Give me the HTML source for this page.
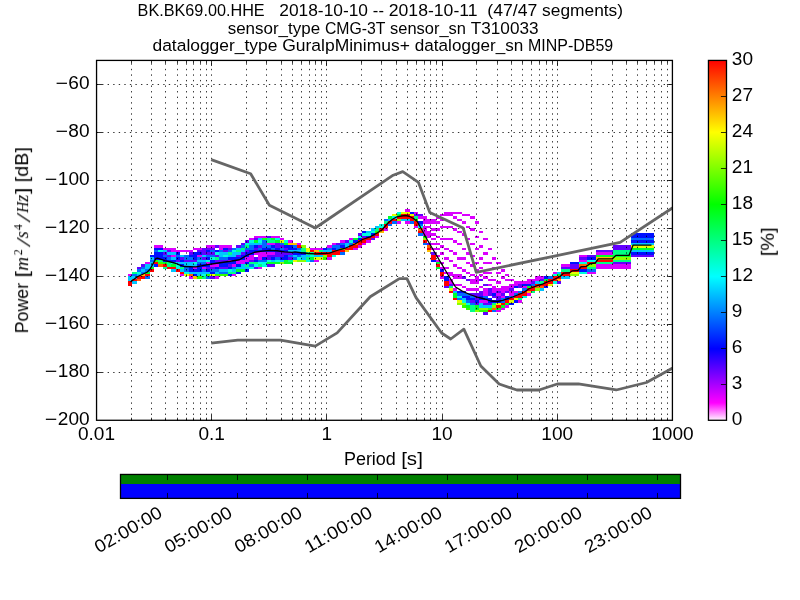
<!DOCTYPE html>
<html><head><meta charset="utf-8"><title>PPSD BK.BK69.00.HHE</title>
<style>
html,body{margin:0;padding:0;background:#fff}
svg{display:block;font-family:"Liberation Sans",sans-serif;fill:#000}
</style></head><body>
<svg width="800" height="600" viewBox="0 0 800 600">
<defs>
<clipPath id="ax"><rect x="96.0" y="60.0" width="576.0" height="360.0"/></clipPath>
<linearGradient id="pq" x1="0" y1="0" x2="0" y2="1"><stop offset="0" stop-color="#ff0000"/><stop offset="0.2" stop-color="#ffff00"/><stop offset="0.4" stop-color="#00ff00"/><stop offset="0.6" stop-color="#00ffff"/><stop offset="0.8" stop-color="#0000ff"/><stop offset="0.95" stop-color="#ff00ff"/><stop offset="1" stop-color="#ffffff"/></linearGradient>
</defs>
<rect width="800" height="600" fill="#fff"/>
<g shape-rendering="crispEdges" stroke="none">
<path fill="#db00ff" d="M127.95 274.09h4.33v2.40h-4.33zM145.29 262.09h4.34v2.40h-4.34zM153.96 245.29h4.34v2.40h-4.34zM158.30 245.29h4.33v2.40h-4.33zM162.63 247.69h4.34v2.40h-4.34zM166.97 247.69h4.34v2.40h-4.34zM171.30 247.69h4.33v4.80h-4.33zM171.30 254.89h4.33v2.40h-4.33zM175.63 250.09h4.34v2.40h-4.34zM179.97 250.09h4.34v2.40h-4.34zM179.97 274.09h4.34v2.40h-4.34zM184.31 250.09h4.33v2.40h-4.33zM188.64 250.09h4.34v2.40h-4.34zM188.64 276.49h4.34v2.40h-4.34zM192.98 247.69h4.33v2.40h-4.33zM192.98 266.89h4.33v2.40h-4.33zM197.31 247.69h4.33v2.40h-4.33zM197.31 254.89h4.33v2.40h-4.33zM201.64 266.89h4.34v2.40h-4.34zM205.98 245.29h4.33v2.40h-4.33zM205.98 262.09h4.33v2.40h-4.33zM210.31 245.29h4.34v2.40h-4.34zM210.31 264.49h4.34v2.40h-4.34zM214.65 264.49h4.34v2.40h-4.34zM214.65 276.49h4.34v2.40h-4.34zM218.99 245.29h4.33v4.80h-4.33zM223.32 245.29h4.34v2.40h-4.34zM227.66 245.29h4.34v2.40h-4.34zM227.66 259.69h4.34v2.40h-4.34zM231.99 264.49h4.33v2.40h-4.33zM231.99 274.09h4.33v2.40h-4.33zM236.32 259.69h4.34v4.80h-4.34zM240.66 259.69h4.34v4.80h-4.34zM245.00 257.29h4.33v4.80h-4.33zM249.33 238.09h4.34v2.40h-4.34zM249.33 254.89h4.34v4.80h-4.34zM253.67 235.69h4.33v2.40h-4.33zM253.67 252.49h4.33v2.40h-4.33zM258.00 235.69h4.33v2.40h-4.33zM258.00 252.49h4.33v7.20h-4.33zM258.00 266.89h4.33v2.40h-4.33zM262.33 235.69h4.34v2.40h-4.34zM262.33 252.49h4.34v4.80h-4.34zM266.67 242.89h4.33v2.40h-4.33zM266.67 252.49h4.33v2.40h-4.33zM271.00 235.69h4.33v2.40h-4.33zM271.00 242.89h4.33v2.40h-4.33zM271.00 252.49h4.33v2.40h-4.33zM275.34 235.69h4.34v2.40h-4.34zM279.68 238.09h4.33v2.40h-4.33zM288.35 240.49h4.33v2.40h-4.33zM297.01 242.89h4.34v2.40h-4.34zM310.02 247.69h4.34v2.40h-4.34zM314.36 247.69h4.33v2.40h-4.33zM314.36 259.69h4.33v2.40h-4.33zM318.69 247.69h4.33v2.40h-4.33zM327.36 245.29h4.33v2.40h-4.33zM327.36 257.29h4.33v2.40h-4.33zM331.69 242.89h4.33v2.40h-4.33zM340.37 240.49h4.33v2.40h-4.33zM349.04 238.09h4.33v2.40h-4.33zM353.37 247.69h4.33v2.40h-4.33zM357.70 245.29h4.34v2.40h-4.34zM362.04 242.89h4.33v2.40h-4.33zM366.38 240.49h4.33v2.40h-4.33zM375.05 235.69h4.33v2.40h-4.33zM383.71 228.49h4.34v2.40h-4.34zM396.72 221.29h4.34v2.40h-4.34zM405.39 209.29h4.33v2.40h-4.33zM405.39 221.29h4.33v2.40h-4.33zM414.06 211.69h4.33v2.40h-4.33zM414.06 226.09h4.33v2.40h-4.33zM418.39 216.49h4.33v2.40h-4.33zM422.73 216.49h4.34v7.20h-4.34zM422.73 226.09h4.34v9.60h-4.34zM427.06 218.89h4.33v4.80h-4.33zM427.06 226.09h4.33v2.40h-4.33zM427.06 230.89h4.33v7.20h-4.33zM431.40 218.89h4.34v4.80h-4.34zM431.40 228.49h4.34v2.40h-4.34zM431.40 233.29h4.34v2.40h-4.34zM431.40 238.09h4.34v2.40h-4.34zM431.40 242.89h4.34v2.40h-4.34zM431.40 247.69h4.34v2.40h-4.34zM435.74 216.49h4.33v2.40h-4.33zM435.74 221.29h4.33v2.40h-4.33zM435.74 228.49h4.33v2.40h-4.33zM435.74 235.69h4.33v2.40h-4.33zM435.74 242.89h4.33v2.40h-4.33zM435.74 247.69h4.33v2.40h-4.33zM435.74 254.89h4.33v2.40h-4.33zM435.74 259.69h4.33v2.40h-4.33zM440.07 214.09h4.33v2.40h-4.33zM440.07 218.89h4.33v2.40h-4.33zM440.07 226.09h4.33v2.40h-4.33zM440.07 238.09h4.33v2.40h-4.33zM440.07 245.29h4.33v2.40h-4.33zM440.07 252.49h4.33v2.40h-4.33zM440.07 262.09h4.33v2.40h-4.33zM440.07 266.89h4.33v2.40h-4.33zM440.07 276.49h4.33v2.40h-4.33zM444.40 211.69h4.34v4.80h-4.34zM444.40 226.09h4.34v2.40h-4.34zM444.40 238.09h4.34v2.40h-4.34zM444.40 247.69h4.34v2.40h-4.34zM444.40 257.29h4.34v2.40h-4.34zM444.40 266.89h4.34v2.40h-4.34zM444.40 271.69h4.34v2.40h-4.34zM448.74 211.69h4.33v4.80h-4.33zM448.74 226.09h4.33v2.40h-4.33zM448.74 238.09h4.33v2.40h-4.33zM448.74 250.09h4.33v2.40h-4.33zM448.74 259.69h4.33v2.40h-4.33zM448.74 271.69h4.33v4.80h-4.33zM448.74 278.89h4.33v4.80h-4.33zM453.07 211.69h4.33v2.40h-4.33zM453.07 216.49h4.33v2.40h-4.33zM453.07 228.49h4.33v2.40h-4.33zM453.07 240.49h4.33v2.40h-4.33zM453.07 252.49h4.33v2.40h-4.33zM453.07 264.49h4.33v2.40h-4.33zM453.07 274.09h4.33v4.80h-4.33zM453.07 283.69h4.33v2.40h-4.33zM453.07 288.49h4.33v2.40h-4.33zM457.41 211.69h4.34v2.40h-4.34zM457.41 218.89h4.34v2.40h-4.34zM457.41 230.89h4.34v2.40h-4.34zM457.41 242.89h4.34v2.40h-4.34zM457.41 257.29h4.34v2.40h-4.34zM457.41 266.89h4.34v2.40h-4.34zM457.41 274.09h4.34v4.80h-4.34zM457.41 283.69h4.34v2.40h-4.34zM461.75 214.09h4.33v2.40h-4.33zM461.75 221.29h4.33v2.40h-4.33zM461.75 233.29h4.33v2.40h-4.33zM461.75 247.69h4.33v2.40h-4.33zM461.75 257.29h4.33v2.40h-4.33zM461.75 269.29h4.33v2.40h-4.33zM461.75 286.09h4.33v2.40h-4.33zM466.08 214.09h4.33v2.40h-4.33zM466.08 226.09h4.33v2.40h-4.33zM466.08 238.09h4.33v2.40h-4.33zM466.08 252.49h4.33v2.40h-4.33zM466.08 262.09h4.33v2.40h-4.33zM466.08 271.69h4.33v2.40h-4.33zM466.08 288.49h4.33v2.40h-4.33zM470.41 216.49h4.34v2.40h-4.34zM470.41 228.49h4.34v2.40h-4.34zM470.41 242.89h4.34v2.40h-4.34zM470.41 254.89h4.34v2.40h-4.34zM470.41 264.49h4.34v2.40h-4.34zM470.41 274.09h4.34v2.40h-4.34zM470.41 278.89h4.34v4.80h-4.34zM470.41 288.49h4.34v2.40h-4.34zM474.75 221.29h4.33v2.40h-4.33zM474.75 235.69h4.33v2.40h-4.33zM474.75 247.69h4.33v2.40h-4.33zM474.75 262.09h4.33v2.40h-4.33zM474.75 269.29h4.33v2.40h-4.33zM474.75 276.49h4.33v7.20h-4.33zM474.75 288.49h4.33v2.40h-4.33zM479.08 230.89h4.33v2.40h-4.33zM479.08 245.29h4.33v2.40h-4.33zM479.08 257.29h4.33v2.40h-4.33zM479.08 266.89h4.33v2.40h-4.33zM479.08 274.09h4.33v2.40h-4.33zM479.08 286.09h4.33v2.40h-4.33zM479.08 300.49h4.33v2.40h-4.33zM483.42 238.09h4.34v2.40h-4.34zM483.42 252.49h4.34v2.40h-4.34zM483.42 262.09h4.34v2.40h-4.34zM483.42 271.69h4.34v2.40h-4.34zM483.42 276.49h4.34v2.40h-4.34zM483.42 288.49h4.34v7.20h-4.34zM483.42 300.49h4.34v2.40h-4.34zM487.75 247.69h4.33v2.40h-4.33zM487.75 262.09h4.33v2.40h-4.33zM487.75 271.69h4.33v2.40h-4.33zM487.75 278.89h4.33v2.40h-4.33zM487.75 283.69h4.33v2.40h-4.33zM492.09 257.29h4.34v2.40h-4.34zM492.09 266.89h4.34v2.40h-4.34zM492.09 278.89h4.34v2.40h-4.34zM492.09 286.09h4.34v7.20h-4.34zM496.43 262.09h4.33v2.40h-4.33zM496.43 271.69h4.33v2.40h-4.33zM496.43 281.29h4.33v2.40h-4.33zM496.43 288.49h4.33v2.40h-4.33zM496.43 293.29h4.33v2.40h-4.33zM496.43 310.09h4.33v2.40h-4.33zM500.76 269.29h4.33v2.40h-4.33zM500.76 276.49h4.33v2.40h-4.33zM500.76 286.09h4.33v7.20h-4.33zM500.76 295.69h4.33v2.40h-4.33zM500.76 307.69h4.33v2.40h-4.33zM505.09 274.09h4.34v2.40h-4.34zM505.09 278.89h4.34v2.40h-4.34zM505.09 286.09h4.34v4.80h-4.34zM505.09 305.29h4.34v2.40h-4.34zM509.43 278.89h4.33v2.40h-4.33zM509.43 283.69h4.33v4.80h-4.33zM509.43 290.89h4.33v4.80h-4.33zM513.76 281.29h4.34v4.80h-4.34zM513.76 290.89h4.34v2.40h-4.34zM518.10 281.29h4.34v2.40h-4.34zM518.10 300.49h4.34v2.40h-4.34zM522.44 281.29h4.33v2.40h-4.33zM522.44 286.09h4.33v2.40h-4.33zM526.77 278.89h4.34v4.80h-4.34zM526.77 293.29h4.34v2.40h-4.34zM531.11 278.89h4.34v2.40h-4.34zM535.44 276.49h4.33v4.80h-4.33zM539.77 276.49h4.34v2.40h-4.34zM552.78 271.69h4.34v2.40h-4.34zM561.45 264.49h4.33v2.40h-4.33zM565.78 264.49h4.34v2.40h-4.34zM578.79 254.89h4.34v2.40h-4.34zM578.79 259.69h4.34v2.40h-4.34zM583.12 254.89h4.34v2.40h-4.34zM583.12 259.69h4.34v2.40h-4.34zM587.46 271.69h4.33v2.40h-4.33zM591.79 271.69h4.34v2.40h-4.34zM596.13 252.49h4.34v2.40h-4.34zM596.13 264.49h4.34v4.80h-4.34zM600.47 252.49h4.34v2.40h-4.34zM600.47 264.49h4.34v4.80h-4.34zM604.80 252.49h4.33v2.40h-4.33zM604.80 264.49h4.33v4.80h-4.33zM609.13 252.49h4.34v2.40h-4.34zM609.13 264.49h4.34v4.80h-4.34zM613.47 264.49h4.34v4.80h-4.34zM617.81 264.49h4.33v4.80h-4.33zM622.14 264.49h4.34v4.80h-4.34zM626.48 264.49h4.34v4.80h-4.34z"/>
<path fill="#00c5ff" d="M127.95 276.49h4.33v4.80h-4.33zM132.28 276.49h4.34v2.40h-4.34zM132.28 281.29h4.34v2.40h-4.34zM136.62 274.09h4.34v2.40h-4.34zM140.96 269.29h4.33v2.40h-4.33zM145.29 264.49h4.34v4.80h-4.34zM149.62 257.29h4.34v2.40h-4.34zM149.62 262.09h4.34v4.80h-4.34zM162.63 250.09h4.34v2.40h-4.34zM166.97 252.49h4.34v2.40h-4.34zM171.30 252.49h4.33v2.40h-4.33zM171.30 257.29h4.33v2.40h-4.33zM171.30 269.29h4.33v2.40h-4.33zM175.63 262.09h4.34v2.40h-4.34zM179.97 254.89h4.34v2.40h-4.34zM179.97 262.09h4.34v2.40h-4.34zM179.97 269.29h4.34v2.40h-4.34zM184.31 262.09h4.33v4.80h-4.33zM188.64 262.09h4.34v4.80h-4.34zM188.64 271.69h4.34v2.40h-4.34zM192.98 264.49h4.33v2.40h-4.33zM192.98 271.69h4.33v2.40h-4.33zM197.31 259.69h4.33v2.40h-4.33zM197.31 271.69h4.33v4.80h-4.33zM201.64 254.89h4.34v2.40h-4.34zM201.64 259.69h4.34v2.40h-4.34zM201.64 271.69h4.34v2.40h-4.34zM205.98 271.69h4.33v2.40h-4.33zM214.65 271.69h4.34v2.40h-4.34zM218.99 252.49h4.33v4.80h-4.33zM218.99 269.29h4.33v2.40h-4.33zM223.32 252.49h4.34v2.40h-4.34zM223.32 269.29h4.34v2.40h-4.34zM227.66 254.89h4.34v2.40h-4.34zM231.99 252.49h4.33v4.80h-4.33zM231.99 269.29h4.33v2.40h-4.33zM236.32 247.69h4.34v2.40h-4.34zM236.32 252.49h4.34v2.40h-4.34zM236.32 266.89h4.34v2.40h-4.34zM240.66 250.09h4.34v2.40h-4.34zM240.66 264.49h4.34v4.80h-4.34zM245.00 266.89h4.33v2.40h-4.33zM249.33 242.89h4.34v2.40h-4.34zM253.67 242.89h4.33v2.40h-4.33zM258.00 238.09h4.33v2.40h-4.33zM258.00 242.89h4.33v2.40h-4.33zM271.00 259.69h4.33v2.40h-4.33zM279.68 259.69h4.33v2.40h-4.33zM288.35 250.09h4.33v2.40h-4.33zM292.68 250.09h4.33v2.40h-4.33zM292.68 254.89h4.33v2.40h-4.33zM297.01 250.09h4.34v2.40h-4.34zM301.35 254.89h4.33v4.80h-4.33zM305.69 254.89h4.33v2.40h-4.33zM314.36 254.89h4.33v2.40h-4.33zM318.69 254.89h4.33v2.40h-4.33zM323.02 250.09h4.34v2.40h-4.34zM327.36 250.09h4.33v2.40h-4.33zM344.70 242.89h4.34v4.80h-4.34zM366.38 230.89h4.33v2.40h-4.33zM370.71 228.49h4.34v2.40h-4.34zM375.05 226.09h4.33v2.40h-4.33zM388.05 218.89h4.33v2.40h-4.33zM401.06 218.89h4.33v2.40h-4.33zM405.39 218.89h4.33v2.40h-4.33zM453.07 290.89h4.33v2.40h-4.33zM461.75 298.09h4.33v2.40h-4.33zM479.08 302.89h4.33v4.80h-4.33zM483.42 305.29h4.34v2.40h-4.34zM487.75 305.29h4.33v2.40h-4.33zM535.44 281.29h4.33v2.40h-4.33zM539.77 288.49h4.34v2.40h-4.34zM557.12 271.69h4.34v2.40h-4.34zM561.45 276.49h4.33v2.40h-4.33zM565.78 276.49h4.34v2.40h-4.34zM630.81 242.89h4.33v2.40h-4.33zM630.81 250.09h4.33v2.40h-4.33zM635.14 242.89h4.34v2.40h-4.34zM635.14 250.09h4.34v2.40h-4.34zM639.48 242.89h4.34v2.40h-4.34zM639.48 250.09h4.34v2.40h-4.34zM643.82 242.89h4.34v2.40h-4.34zM643.82 250.09h4.34v2.40h-4.34zM648.15 242.89h5.95v2.40h-5.95zM648.15 250.09h5.95v2.40h-5.95z"/>
<path fill="#ff0000" d="M127.95 281.29h4.33v4.80h-4.33zM132.28 278.89h4.34v2.40h-4.34zM136.62 276.49h4.34v2.40h-4.34zM140.96 276.49h4.33v2.40h-4.33zM145.29 274.09h4.34v2.40h-4.34zM149.62 269.29h4.34v2.40h-4.34zM153.96 262.09h4.34v2.40h-4.34zM162.63 264.49h4.34v2.40h-4.34zM166.97 266.89h4.34v2.40h-4.34zM171.30 266.89h4.33v2.40h-4.33zM175.63 269.29h4.34v2.40h-4.34zM179.97 271.69h4.34v2.40h-4.34zM297.01 245.29h4.34v2.40h-4.34zM310.02 250.09h4.34v2.40h-4.34zM314.36 252.49h4.33v2.40h-4.33zM318.69 252.49h4.33v2.40h-4.33zM323.02 252.49h4.34v2.40h-4.34zM327.36 252.49h4.33v4.80h-4.33zM331.69 250.09h4.33v4.80h-4.33zM336.03 250.09h4.34v4.80h-4.34zM340.37 250.09h4.33v2.40h-4.33zM344.70 247.69h4.34v2.40h-4.34zM349.04 245.29h4.33v4.80h-4.33zM353.37 245.29h4.33v2.40h-4.33zM357.70 240.49h4.34v4.80h-4.34zM362.04 238.09h4.33v4.80h-4.33zM366.38 238.09h4.33v2.40h-4.33zM370.71 235.69h4.34v2.40h-4.34zM375.05 233.29h4.33v2.40h-4.33zM379.38 228.49h4.33v2.40h-4.33zM383.71 223.69h4.34v4.80h-4.34zM388.05 221.29h4.33v2.40h-4.33zM392.38 218.89h4.33v2.40h-4.33zM396.72 216.49h4.34v2.40h-4.34zM401.06 214.09h4.33v4.80h-4.33zM405.39 214.09h4.33v4.80h-4.33zM409.72 216.49h4.34v4.80h-4.34zM414.06 221.29h4.33v4.80h-4.33zM418.39 230.89h4.33v2.40h-4.33zM422.73 240.49h4.34v2.40h-4.34zM427.06 247.69h4.33v2.40h-4.33zM431.40 254.89h4.34v4.80h-4.34zM435.74 264.49h4.33v2.40h-4.33zM440.07 271.69h4.33v4.80h-4.33zM444.40 281.29h4.34v4.80h-4.34zM448.74 290.89h4.33v2.40h-4.33zM453.07 298.09h4.33v2.40h-4.33zM487.75 310.09h4.33v2.40h-4.33zM496.43 305.29h4.33v2.40h-4.33zM500.76 302.89h4.33v2.40h-4.33zM505.09 300.49h4.34v2.40h-4.34zM509.43 298.09h4.33v2.40h-4.33zM513.76 295.69h4.34v2.40h-4.34zM518.10 293.29h4.34v4.80h-4.34zM522.44 290.89h4.33v4.80h-4.33zM526.77 288.49h4.34v2.40h-4.34zM531.11 286.09h4.34v4.80h-4.34zM535.44 283.69h4.33v2.40h-4.33zM539.77 283.69h4.34v2.40h-4.34zM544.11 281.29h4.34v4.80h-4.34zM548.45 278.89h4.33v4.80h-4.33zM552.78 276.49h4.34v4.80h-4.34zM557.12 276.49h4.34v2.40h-4.34zM561.45 271.69h4.33v4.80h-4.33zM565.78 271.69h4.34v4.80h-4.34zM570.12 269.29h4.34v2.40h-4.34zM574.46 269.29h4.33v2.40h-4.33zM578.79 266.89h4.34v2.40h-4.34zM583.12 266.89h4.34v2.40h-4.34zM587.46 262.09h4.33v2.40h-4.33zM591.79 262.09h4.34v2.40h-4.34zM596.13 259.69h4.34v2.40h-4.34zM600.47 259.69h4.34v2.40h-4.34zM604.80 259.69h4.33v2.40h-4.33zM609.13 259.69h4.34v2.40h-4.34z"/>
<path fill="#00ff84" d="M132.28 271.69h4.34v2.40h-4.34zM158.30 259.69h4.33v2.40h-4.33zM162.63 266.89h4.34v2.40h-4.34zM166.97 262.09h4.34v4.80h-4.34zM179.97 266.89h4.34v2.40h-4.34zM201.64 276.49h4.34v2.40h-4.34zM214.65 257.29h4.34v2.40h-4.34zM227.66 252.49h4.34v2.40h-4.34zM227.66 271.69h4.34v2.40h-4.34zM231.99 271.69h4.33v2.40h-4.33zM236.32 250.09h4.34v2.40h-4.34zM240.66 247.69h4.34v2.40h-4.34zM245.00 245.29h4.33v2.40h-4.33zM245.00 264.49h4.33v2.40h-4.33zM249.33 262.09h4.34v2.40h-4.34zM253.67 262.09h4.33v2.40h-4.33zM258.00 264.49h4.33v2.40h-4.33zM266.67 238.09h4.33v4.80h-4.33zM271.00 240.49h4.33v2.40h-4.33zM288.35 259.69h4.33v2.40h-4.33zM301.35 247.69h4.33v4.80h-4.33zM305.69 252.49h4.33v2.40h-4.33zM305.69 257.29h4.33v2.40h-4.33zM310.02 252.49h4.34v2.40h-4.34zM318.69 250.09h4.33v2.40h-4.33zM375.05 228.49h4.33v2.40h-4.33zM383.71 221.29h4.34v2.40h-4.34zM414.06 216.49h4.33v2.40h-4.33zM448.74 286.09h4.33v2.40h-4.33zM470.41 305.29h4.34v7.20h-4.34zM492.09 302.89h4.34v2.40h-4.34zM518.10 298.09h4.34v2.40h-4.34zM531.11 290.89h4.34v2.40h-4.34zM539.77 281.29h4.34v2.40h-4.34zM561.45 269.29h4.33v2.40h-4.33zM565.78 269.29h4.34v2.40h-4.34zM587.46 266.89h4.33v2.40h-4.33zM591.79 266.89h4.34v2.40h-4.34zM596.13 262.09h4.34v2.40h-4.34zM600.47 262.09h4.34v2.40h-4.34zM604.80 262.09h4.33v2.40h-4.33zM609.13 262.09h4.34v2.40h-4.34zM613.47 250.09h4.34v4.80h-4.34zM613.47 259.69h4.34v2.40h-4.34zM617.81 250.09h4.33v4.80h-4.33zM617.81 259.69h4.33v2.40h-4.33zM622.14 250.09h4.34v4.80h-4.34zM622.14 259.69h4.34v2.40h-4.34zM626.48 250.09h4.34v4.80h-4.34zM626.48 259.69h4.34v2.40h-4.34z"/>
<path fill="#006bff" d="M132.28 274.09h4.34v2.40h-4.34zM136.62 269.29h4.34v2.40h-4.34zM140.96 266.89h4.33v2.40h-4.33zM140.96 271.69h4.33v2.40h-4.33zM145.29 269.29h4.34v2.40h-4.34zM145.29 276.49h4.34v2.40h-4.34zM149.62 259.69h4.34v2.40h-4.34zM153.96 250.09h4.34v2.40h-4.34zM162.63 254.89h4.34v2.40h-4.34zM166.97 257.29h4.34v2.40h-4.34zM175.63 254.89h4.34v2.40h-4.34zM184.31 254.89h4.33v4.80h-4.33zM184.31 266.89h4.33v4.80h-4.33zM188.64 257.29h4.34v2.40h-4.34zM197.31 257.29h4.33v2.40h-4.33zM197.31 262.09h4.33v2.40h-4.33zM201.64 262.09h4.34v2.40h-4.34zM201.64 269.29h4.34v2.40h-4.34zM205.98 254.89h4.33v2.40h-4.33zM205.98 276.49h4.33v2.40h-4.33zM210.31 250.09h4.34v2.40h-4.34zM210.31 254.89h4.34v2.40h-4.34zM210.31 269.29h4.34v2.40h-4.34zM214.65 269.29h4.34v2.40h-4.34zM218.99 250.09h4.33v2.40h-4.33zM218.99 257.29h4.33v2.40h-4.33zM218.99 271.69h4.33v2.40h-4.33zM223.32 257.29h4.34v2.40h-4.34zM223.32 271.69h4.34v2.40h-4.34zM227.66 250.09h4.34v2.40h-4.34zM231.99 247.69h4.33v2.40h-4.33zM231.99 266.89h4.33v2.40h-4.33zM240.66 245.29h4.34v2.40h-4.34zM245.00 247.69h4.33v2.40h-4.33zM249.33 245.29h4.34v4.80h-4.34zM249.33 264.49h4.34v2.40h-4.34zM258.00 247.69h4.33v2.40h-4.33zM258.00 259.69h4.33v2.40h-4.33zM262.33 240.49h4.34v7.20h-4.34zM262.33 259.69h4.34v2.40h-4.34zM266.67 245.29h4.33v2.40h-4.33zM271.00 247.69h4.33v2.40h-4.33zM275.34 257.29h4.34v2.40h-4.34zM279.68 242.89h4.33v2.40h-4.33zM279.68 247.69h4.33v2.40h-4.33zM288.35 254.89h4.33v2.40h-4.33zM292.68 245.29h4.33v2.40h-4.33zM292.68 257.29h4.33v2.40h-4.33zM297.01 247.69h4.34v2.40h-4.34zM297.01 254.89h4.34v2.40h-4.34zM310.02 259.69h4.34v2.40h-4.34zM327.36 247.69h4.33v2.40h-4.33zM331.69 245.29h4.33v2.40h-4.33zM336.03 245.29h4.34v4.80h-4.34zM340.37 242.89h4.33v2.40h-4.33zM340.37 252.49h4.33v2.40h-4.33zM349.04 242.89h4.33v2.40h-4.33zM383.71 218.89h4.34v2.40h-4.34zM388.05 223.69h4.33v2.40h-4.33zM392.38 221.29h4.33v2.40h-4.33zM409.72 221.29h4.34v2.40h-4.34zM418.39 223.69h4.33v2.40h-4.33zM418.39 233.29h4.33v2.40h-4.33zM422.73 242.89h4.34v2.40h-4.34zM457.41 293.29h4.34v2.40h-4.34zM457.41 298.09h4.34v2.40h-4.34zM461.75 293.29h4.33v2.40h-4.33zM466.08 293.29h4.33v2.40h-4.33zM466.08 300.49h4.33v2.40h-4.33zM470.41 295.69h4.34v2.40h-4.34zM470.41 302.89h4.34v2.40h-4.34zM483.42 295.69h4.34v2.40h-4.34zM492.09 310.09h4.34v2.40h-4.34zM500.76 298.09h4.33v4.80h-4.33zM509.43 295.69h4.33v2.40h-4.33zM513.76 293.29h4.34v2.40h-4.34zM518.10 290.89h4.34v2.40h-4.34zM522.44 288.49h4.33v2.40h-4.33zM531.11 283.69h4.34v2.40h-4.34zM548.45 276.49h4.33v2.40h-4.33zM587.46 269.29h4.33v2.40h-4.33zM591.79 269.29h4.34v2.40h-4.34zM630.81 238.09h4.33v2.40h-4.33zM635.14 238.09h4.34v2.40h-4.34zM639.48 238.09h4.34v2.40h-4.34zM643.82 238.09h4.34v2.40h-4.34zM648.15 238.09h5.95v2.40h-5.95z"/>
<path fill="#6300ff" d="M136.62 266.89h4.34v2.40h-4.34zM140.96 264.49h4.33v2.40h-4.33zM162.63 252.49h4.34v2.40h-4.34zM166.97 250.09h4.34v2.40h-4.34zM166.97 254.89h4.34v2.40h-4.34zM175.63 259.69h4.34v2.40h-4.34zM179.97 257.29h4.34v2.40h-4.34zM184.31 259.69h4.33v2.40h-4.33zM188.64 252.49h4.34v2.40h-4.34zM188.64 259.69h4.34v2.40h-4.34zM192.98 259.69h4.33v2.40h-4.33zM197.31 250.09h4.33v2.40h-4.33zM201.64 247.69h4.34v7.20h-4.34zM201.64 257.29h4.34v2.40h-4.34zM205.98 247.69h4.33v2.40h-4.33zM205.98 252.49h4.33v2.40h-4.33zM205.98 266.89h4.33v2.40h-4.33zM210.31 247.69h4.34v2.40h-4.34zM210.31 252.49h4.34v2.40h-4.34zM210.31 266.89h4.34v2.40h-4.34zM210.31 276.49h4.34v2.40h-4.34zM214.65 245.29h4.34v2.40h-4.34zM214.65 254.89h4.34v2.40h-4.34zM214.65 259.69h4.34v2.40h-4.34zM218.99 259.69h4.33v2.40h-4.33zM218.99 266.89h4.33v2.40h-4.33zM223.32 250.09h4.34v2.40h-4.34zM223.32 259.69h4.34v2.40h-4.34zM223.32 266.89h4.34v2.40h-4.34zM227.66 247.69h4.34v2.40h-4.34zM227.66 264.49h4.34v2.40h-4.34zM236.32 245.29h4.34v2.40h-4.34zM236.32 254.89h4.34v2.40h-4.34zM240.66 242.89h4.34v2.40h-4.34zM240.66 252.49h4.34v2.40h-4.34zM245.00 240.49h4.33v2.40h-4.33zM245.00 250.09h4.33v2.40h-4.33zM249.33 259.69h4.34v2.40h-4.34zM253.67 238.09h4.33v2.40h-4.33zM253.67 247.69h4.33v2.40h-4.33zM253.67 257.29h4.33v2.40h-4.33zM253.67 266.89h4.33v2.40h-4.33zM258.00 245.29h4.33v2.40h-4.33zM266.67 235.69h4.33v2.40h-4.33zM266.67 254.89h4.33v4.80h-4.33zM266.67 264.49h4.33v2.40h-4.33zM271.00 254.89h4.33v2.40h-4.33zM271.00 264.49h4.33v2.40h-4.33zM275.34 242.89h4.34v4.80h-4.34zM275.34 252.49h4.34v4.80h-4.34zM279.68 245.29h4.33v2.40h-4.33zM279.68 252.49h4.33v4.80h-4.33zM284.01 247.69h4.34v2.40h-4.34zM284.01 252.49h4.34v2.40h-4.34zM288.35 252.49h4.33v2.40h-4.33zM288.35 257.29h4.33v2.40h-4.33zM336.03 242.89h4.34v2.40h-4.34zM344.70 240.49h4.34v2.40h-4.34zM357.70 233.29h4.34v2.40h-4.34zM362.04 235.69h4.33v2.40h-4.33zM370.71 238.09h4.34v2.40h-4.34zM414.06 214.09h4.33v2.40h-4.33zM418.39 214.09h4.33v2.40h-4.33zM427.06 242.89h4.33v2.40h-4.33zM431.40 252.49h4.34v2.40h-4.34zM444.40 286.09h4.34v2.40h-4.34zM448.74 283.69h4.33v2.40h-4.33zM461.75 276.49h4.33v2.40h-4.33zM466.08 278.89h4.33v2.40h-4.33zM470.41 293.29h4.34v2.40h-4.34zM470.41 300.49h4.34v2.40h-4.34zM474.75 293.29h4.33v7.20h-4.33zM474.75 302.89h4.33v2.40h-4.33zM479.08 278.89h4.33v2.40h-4.33zM479.08 290.89h4.33v4.80h-4.33zM483.42 283.69h4.34v2.40h-4.34zM483.42 302.89h4.34v2.40h-4.34zM483.42 312.49h4.34v2.40h-4.34zM487.75 288.49h4.33v7.20h-4.33zM487.75 302.89h4.33v2.40h-4.33zM492.09 295.69h4.34v2.40h-4.34zM496.43 290.89h4.33v2.40h-4.33zM496.43 295.69h4.33v4.80h-4.33zM500.76 293.29h4.33v2.40h-4.33zM505.09 290.89h4.34v2.40h-4.34zM509.43 288.49h4.33v2.40h-4.33zM518.10 283.69h4.34v4.80h-4.34zM531.11 281.29h4.34v2.40h-4.34zM539.77 278.89h4.34v2.40h-4.34zM557.12 281.29h4.34v2.40h-4.34zM561.45 266.89h4.33v2.40h-4.33zM565.78 266.89h4.34v2.40h-4.34zM570.12 264.49h4.34v4.80h-4.34zM574.46 264.49h4.33v4.80h-4.33zM578.79 257.29h4.34v2.40h-4.34zM583.12 257.29h4.34v2.40h-4.34zM587.46 254.89h4.33v2.40h-4.33zM591.79 254.89h4.34v2.40h-4.34zM596.13 250.09h4.34v2.40h-4.34zM600.47 250.09h4.34v2.40h-4.34zM604.80 250.09h4.33v2.40h-4.33zM609.13 250.09h4.34v2.40h-4.34zM613.47 245.29h4.34v4.80h-4.34zM613.47 262.09h4.34v2.40h-4.34zM617.81 245.29h4.33v4.80h-4.33zM617.81 262.09h4.33v2.40h-4.33zM622.14 245.29h4.34v4.80h-4.34zM622.14 262.09h4.34v2.40h-4.34zM626.48 245.29h4.34v4.80h-4.34zM626.48 262.09h4.34v2.40h-4.34zM630.81 254.89h4.33v2.40h-4.33zM635.14 254.89h4.34v2.40h-4.34zM639.48 254.89h4.34v2.40h-4.34zM643.82 254.89h4.34v2.40h-4.34zM648.15 254.89h5.95v2.40h-5.95z"/>
<path fill="#00ffde" d="M136.62 271.69h4.34v2.40h-4.34zM158.30 250.09h4.33v2.40h-4.33zM171.30 262.09h4.33v2.40h-4.33zM175.63 264.49h4.34v4.80h-4.34zM184.31 271.69h4.33v2.40h-4.33zM192.98 262.09h4.33v2.40h-4.33zM201.64 274.09h4.34v2.40h-4.34zM205.98 259.69h4.33v2.40h-4.33zM210.31 257.29h4.34v2.40h-4.34zM214.65 252.49h4.34v2.40h-4.34zM223.32 254.89h4.34v2.40h-4.34zM227.66 269.29h4.34v2.40h-4.34zM231.99 250.09h4.33v2.40h-4.33zM245.00 242.89h4.33v2.40h-4.33zM249.33 240.49h4.34v2.40h-4.34zM249.33 266.89h4.34v2.40h-4.34zM253.67 264.49h4.33v2.40h-4.33zM258.00 240.49h4.33v2.40h-4.33zM258.00 262.09h4.33v2.40h-4.33zM262.33 262.09h4.34v4.80h-4.34zM266.67 259.69h4.33v2.40h-4.33zM275.34 238.09h4.34v2.40h-4.34zM275.34 259.69h4.34v2.40h-4.34zM284.01 240.49h4.34v2.40h-4.34zM297.01 257.29h4.34v2.40h-4.34zM305.69 259.69h4.33v2.40h-4.33zM310.02 254.89h4.34v2.40h-4.34zM331.69 254.89h4.33v2.40h-4.33zM349.04 240.49h4.33v2.40h-4.33zM357.70 235.69h4.34v2.40h-4.34zM362.04 233.29h4.33v2.40h-4.33zM366.38 233.29h4.33v2.40h-4.33zM370.71 230.89h4.34v2.40h-4.34zM379.38 223.69h4.33v4.80h-4.33zM392.38 216.49h4.33v2.40h-4.33zM396.72 211.69h4.34v2.40h-4.34zM418.39 226.09h4.33v2.40h-4.33zM457.41 295.69h4.34v2.40h-4.34zM461.75 300.49h4.33v2.40h-4.33zM466.08 302.89h4.33v2.40h-4.33zM522.44 295.69h4.33v2.40h-4.33zM552.78 274.09h4.34v2.40h-4.34zM552.78 281.29h4.34v2.40h-4.34zM578.79 262.09h4.34v2.40h-4.34zM578.79 271.69h4.34v2.40h-4.34zM583.12 262.09h4.34v2.40h-4.34zM583.12 271.69h4.34v2.40h-4.34zM587.46 259.69h4.33v2.40h-4.33zM591.79 259.69h4.34v2.40h-4.34z"/>
<path fill="#ff6300" d="M136.62 278.89h4.34v2.40h-4.34zM158.30 264.49h4.33v2.40h-4.33zM188.64 274.09h4.34v2.40h-4.34zM353.37 242.89h4.33v2.40h-4.33zM418.39 228.49h4.33v2.40h-4.33zM427.06 245.29h4.33v2.40h-4.33zM492.09 307.69h4.34v2.40h-4.34zM535.44 286.09h4.33v2.40h-4.33zM539.77 286.09h4.34v2.40h-4.34zM578.79 264.49h4.34v2.40h-4.34zM583.12 264.49h4.34v2.40h-4.34z"/>
<path fill="#ffbe00" d="M140.96 274.09h4.33v2.40h-4.33zM192.98 276.49h4.33v2.40h-4.33zM288.35 242.89h4.33v2.40h-4.33zM292.68 242.89h4.33v2.40h-4.33zM314.36 250.09h4.33v2.40h-4.33zM344.70 250.09h4.34v2.40h-4.34zM379.38 230.89h4.33v2.40h-4.33zM427.06 250.09h4.33v2.40h-4.33zM526.77 290.89h4.34v2.40h-4.34zM557.12 278.89h4.34v2.40h-4.34zM596.13 257.29h4.34v2.40h-4.34zM600.47 257.29h4.34v2.40h-4.34zM604.80 257.29h4.33v2.40h-4.33zM609.13 257.29h4.34v2.40h-4.34z"/>
<path fill="#00ff2a" d="M145.29 271.69h4.34v2.40h-4.34zM149.62 266.89h4.34v2.40h-4.34zM162.63 262.09h4.34v2.40h-4.34zM171.30 264.49h4.33v2.40h-4.33zM236.32 269.29h4.34v2.40h-4.34zM240.66 269.29h4.34v2.40h-4.34zM253.67 240.49h4.33v2.40h-4.33zM262.33 238.09h4.34v2.40h-4.34zM266.67 262.09h4.33v2.40h-4.33zM271.00 238.09h4.33v2.40h-4.33zM271.00 262.09h4.33v2.40h-4.33zM275.34 240.49h4.34v2.40h-4.34zM275.34 262.09h4.34v2.40h-4.34zM284.01 242.89h4.34v2.40h-4.34zM284.01 259.69h4.34v4.80h-4.34zM288.35 262.09h4.33v2.40h-4.33zM310.02 257.29h4.34v2.40h-4.34zM353.37 238.09h4.33v2.40h-4.33zM388.05 216.49h4.33v2.40h-4.33zM396.72 214.09h4.34v2.40h-4.34zM422.73 235.69h4.34v2.40h-4.34zM435.74 262.09h4.33v2.40h-4.33zM435.74 266.89h4.33v2.40h-4.33zM453.07 293.29h4.33v4.80h-4.33zM466.08 305.29h4.33v2.40h-4.33zM474.75 305.29h4.33v4.80h-4.33zM496.43 307.69h4.33v2.40h-4.33zM500.76 305.29h4.33v2.40h-4.33zM505.09 302.89h4.34v2.40h-4.34zM526.77 286.09h4.34v2.40h-4.34zM544.11 278.89h4.34v2.40h-4.34zM557.12 274.09h4.34v2.40h-4.34zM596.13 254.89h4.34v2.40h-4.34zM600.47 254.89h4.34v2.40h-4.34zM604.80 254.89h4.33v2.40h-4.33zM609.13 254.89h4.34v2.40h-4.34zM613.47 254.89h4.34v2.40h-4.34zM617.81 254.89h4.33v2.40h-4.33zM622.14 254.89h4.34v2.40h-4.34zM626.48 254.89h4.34v2.40h-4.34zM630.81 247.69h4.33v2.40h-4.33zM635.14 247.69h4.34v2.40h-4.34zM639.48 247.69h4.34v2.40h-4.34zM643.82 247.69h4.34v2.40h-4.34zM648.15 247.69h5.95v2.40h-5.95z"/>
<path fill="#0010ff" d="M149.62 254.89h4.34v2.40h-4.34zM153.96 247.69h4.34v2.40h-4.34zM153.96 252.49h4.34v7.20h-4.34zM153.96 264.49h4.34v2.40h-4.34zM158.30 247.69h4.33v2.40h-4.33zM158.30 252.49h4.33v7.20h-4.33zM162.63 257.29h4.34v4.80h-4.34zM166.97 259.69h4.34v2.40h-4.34zM171.30 259.69h4.33v2.40h-4.33zM175.63 252.49h4.34v2.40h-4.34zM175.63 257.29h4.34v2.40h-4.34zM179.97 259.69h4.34v2.40h-4.34zM179.97 264.49h4.34v2.40h-4.34zM188.64 254.89h4.34v2.40h-4.34zM188.64 266.89h4.34v4.80h-4.34zM192.98 252.49h4.33v7.20h-4.33zM192.98 269.29h4.33v2.40h-4.33zM192.98 274.09h4.33v2.40h-4.33zM197.31 252.49h4.33v2.40h-4.33zM197.31 264.49h4.33v7.20h-4.33zM201.64 264.49h4.34v2.40h-4.34zM205.98 250.09h4.33v2.40h-4.33zM205.98 257.29h4.33v2.40h-4.33zM205.98 264.49h4.33v2.40h-4.33zM205.98 269.29h4.33v2.40h-4.33zM210.31 259.69h4.34v4.80h-4.34zM210.31 271.69h4.34v2.40h-4.34zM214.65 250.09h4.34v2.40h-4.34zM214.65 262.09h4.34v2.40h-4.34zM214.65 266.89h4.34v2.40h-4.34zM218.99 262.09h4.33v4.80h-4.33zM223.32 247.69h4.34v2.40h-4.34zM223.32 262.09h4.34v4.80h-4.34zM227.66 257.29h4.34v2.40h-4.34zM227.66 262.09h4.34v2.40h-4.34zM227.66 266.89h4.34v2.40h-4.34zM227.66 274.09h4.34v2.40h-4.34zM231.99 257.29h4.33v7.20h-4.33zM236.32 257.29h4.34v2.40h-4.34zM236.32 264.49h4.34v2.40h-4.34zM236.32 271.69h4.34v2.40h-4.34zM240.66 254.89h4.34v4.80h-4.34zM245.00 252.49h4.33v4.80h-4.33zM245.00 262.09h4.33v2.40h-4.33zM245.00 269.29h4.33v2.40h-4.33zM249.33 250.09h4.34v4.80h-4.34zM253.67 245.29h4.33v2.40h-4.33zM253.67 250.09h4.33v2.40h-4.33zM253.67 259.69h4.33v2.40h-4.33zM258.00 250.09h4.33v2.40h-4.33zM262.33 247.69h4.34v4.80h-4.34zM262.33 257.29h4.34v2.40h-4.34zM266.67 247.69h4.33v4.80h-4.33zM271.00 245.29h4.33v2.40h-4.33zM271.00 250.09h4.33v2.40h-4.33zM271.00 257.29h4.33v2.40h-4.33zM275.34 247.69h4.34v4.80h-4.34zM279.68 250.09h4.33v2.40h-4.33zM279.68 257.29h4.33v2.40h-4.33zM284.01 245.29h4.34v2.40h-4.34zM284.01 250.09h4.34v2.40h-4.34zM284.01 254.89h4.34v4.80h-4.34zM288.35 245.29h4.33v4.80h-4.33zM292.68 247.69h4.33v2.40h-4.33zM292.68 252.49h4.33v2.40h-4.33zM297.01 252.49h4.34v2.40h-4.34zM301.35 252.49h4.33v2.40h-4.33zM323.02 247.69h4.34v2.40h-4.34zM331.69 247.69h4.33v2.40h-4.33zM340.37 245.29h4.33v2.40h-4.33zM353.37 240.49h4.33v2.40h-4.33zM357.70 238.09h4.34v2.40h-4.34zM362.04 230.89h4.33v2.40h-4.33zM366.38 235.69h4.33v2.40h-4.33zM370.71 233.29h4.34v2.40h-4.34zM409.72 211.69h4.34v2.40h-4.34zM418.39 221.29h4.33v2.40h-4.33zM431.40 259.69h4.34v2.40h-4.34zM440.07 269.29h4.33v2.40h-4.33zM444.40 276.49h4.34v4.80h-4.34zM457.41 290.89h4.34v2.40h-4.34zM461.75 290.89h4.33v2.40h-4.33zM461.75 295.69h4.33v2.40h-4.33zM466.08 295.69h4.33v4.80h-4.33zM470.41 298.09h4.34v2.40h-4.34zM474.75 300.49h4.33v2.40h-4.33zM479.08 295.69h4.33v4.80h-4.33zM483.42 298.09h4.34v2.40h-4.34zM487.75 298.09h4.33v4.80h-4.33zM492.09 293.29h4.34v2.40h-4.34zM492.09 300.49h4.34v2.40h-4.34zM496.43 300.49h4.33v2.40h-4.33zM505.09 295.69h4.34v4.80h-4.34zM509.43 302.89h4.33v2.40h-4.33zM513.76 286.09h4.34v2.40h-4.34zM513.76 300.49h4.34v2.40h-4.34zM522.44 283.69h4.33v2.40h-4.33zM526.77 283.69h4.34v2.40h-4.34zM544.11 276.49h4.34v2.40h-4.34zM544.11 286.09h4.34v2.40h-4.34zM570.12 262.09h4.34v2.40h-4.34zM574.46 262.09h4.33v2.40h-4.33zM578.79 269.29h4.34v2.40h-4.34zM583.12 269.29h4.34v2.40h-4.34zM587.46 257.29h4.33v2.40h-4.33zM591.79 257.29h4.34v2.40h-4.34zM630.81 233.29h4.33v4.80h-4.33zM630.81 240.49h4.33v2.40h-4.33zM630.81 252.49h4.33v2.40h-4.33zM635.14 233.29h4.34v4.80h-4.34zM635.14 240.49h4.34v2.40h-4.34zM635.14 252.49h4.34v2.40h-4.34zM639.48 233.29h4.34v4.80h-4.34zM639.48 240.49h4.34v2.40h-4.34zM639.48 252.49h4.34v2.40h-4.34zM643.82 233.29h4.34v4.80h-4.34zM643.82 240.49h4.34v2.40h-4.34zM643.82 252.49h4.34v2.40h-4.34zM648.15 233.29h5.95v4.80h-5.95zM648.15 240.49h5.95v2.40h-5.95zM648.15 252.49h5.95v2.40h-5.95z"/>
<path fill="#31ff00" d="M153.96 259.69h4.34v2.40h-4.34zM158.30 262.09h4.33v2.40h-4.33zM197.31 276.49h4.33v2.40h-4.33zM205.98 274.09h4.33v2.40h-4.33zM214.65 274.09h4.34v2.40h-4.34zM218.99 274.09h4.33v2.40h-4.33zM223.32 274.09h4.34v2.40h-4.34zM323.02 257.29h4.34v2.40h-4.34zM375.05 230.89h4.33v2.40h-4.33zM414.06 218.89h4.33v2.40h-4.33zM461.75 305.29h4.33v2.40h-4.33zM466.08 307.69h4.33v2.40h-4.33zM479.08 310.09h4.33v2.40h-4.33zM483.42 310.09h4.34v2.40h-4.34zM487.75 307.69h4.33v2.40h-4.33z"/>
<path fill="#e6ff00" d="M184.31 274.09h4.33v2.40h-4.33zM210.31 274.09h4.34v2.40h-4.34zM279.68 240.49h4.33v2.40h-4.33zM292.68 259.69h4.33v2.40h-4.33zM305.69 247.69h4.33v4.80h-4.33zM314.36 257.29h4.33v2.40h-4.33zM318.69 257.29h4.33v2.40h-4.33zM392.38 214.09h4.33v2.40h-4.33zM401.06 211.69h4.33v2.40h-4.33zM405.39 211.69h4.33v2.40h-4.33zM409.72 214.09h4.34v2.40h-4.34zM448.74 288.49h4.33v2.40h-4.33zM457.41 300.49h4.34v2.40h-4.34zM496.43 302.89h4.33v2.40h-4.33zM509.43 300.49h4.33v2.40h-4.33zM513.76 298.09h4.34v2.40h-4.34zM548.45 283.69h4.33v2.40h-4.33zM570.12 271.69h4.34v2.40h-4.34zM574.46 271.69h4.33v2.40h-4.33zM630.81 245.29h4.33v2.40h-4.33zM635.14 245.29h4.34v2.40h-4.34zM639.48 245.29h4.34v2.40h-4.34zM643.82 245.29h4.34v2.40h-4.34zM648.15 245.29h5.95v2.40h-5.95z"/>
<path fill="#8bff00" d="M279.68 262.09h4.33v2.40h-4.33zM297.01 259.69h4.34v2.40h-4.34zM301.35 245.29h4.33v2.40h-4.33zM301.35 259.69h4.33v2.40h-4.33zM323.02 254.89h4.34v2.40h-4.34zM340.37 247.69h4.33v2.40h-4.33zM396.72 218.89h4.34v2.40h-4.34zM422.73 238.09h4.34v2.40h-4.34zM457.41 302.89h4.34v2.40h-4.34zM461.75 302.89h4.33v2.40h-4.33zM474.75 310.09h4.33v2.40h-4.33zM479.08 307.69h4.33v2.40h-4.33zM483.42 307.69h4.34v2.40h-4.34zM492.09 305.29h4.34v2.40h-4.34zM535.44 288.49h4.33v2.40h-4.33zM570.12 274.09h4.34v2.40h-4.34zM574.46 274.09h4.33v2.40h-4.33zM587.46 264.49h4.33v2.40h-4.33zM591.79 264.49h4.34v2.40h-4.34zM613.47 257.29h4.34v2.40h-4.34zM617.81 257.29h4.33v2.40h-4.33zM622.14 257.29h4.34v2.40h-4.34zM626.48 257.29h4.34v2.40h-4.34z"/>
</g>
<path d="M131.5 420.5V60.0M151.5 420.5V60.0M165.5 420.5V60.0M177.5 420.5V60.0M186.5 420.5V60.0M193.5 420.5V60.0M200.5 420.5V60.0M206.5 420.5V60.0M211.5 420.5V60.0M246.5 420.5V60.0M266.5 420.5V60.0M281.5 420.5V60.0M292.5 420.5V60.0M301.5 420.5V60.0M309.5 420.5V60.0M315.5 420.5V60.0M321.5 420.5V60.0M326.5 420.5V60.0M361.5 420.5V60.0M381.5 420.5V60.0M396.5 420.5V60.0M407.5 420.5V60.0M416.5 420.5V60.0M424.5 420.5V60.0M430.5 420.5V60.0M436.5 420.5V60.0M442.5 420.5V60.0M476.5 420.5V60.0M497.5 420.5V60.0M511.5 420.5V60.0M522.5 420.5V60.0M531.5 420.5V60.0M539.5 420.5V60.0M546.5 420.5V60.0M552.5 420.5V60.0M557.5 420.5V60.0M591.5 420.5V60.0M612.5 420.5V60.0M626.5 420.5V60.0M637.5 420.5V60.0M646.5 420.5V60.0M654.5 420.5V60.0M661.5 420.5V60.0M667.5 420.5V60.0M96.5 84.5H672.0M96.5 132.5H672.0M96.5 180.5H672.0M96.5 228.5H672.0M96.5 276.5H672.0M96.5 324.5H672.0M96.5 372.5H672.0" fill="none" stroke="#000" stroke-width="0.8" stroke-dasharray="1.39 4.17"/>
<g clip-path="url(#ax)" fill="none" stroke-linejoin="round">
<polyline points="211.20,159.60 250.65,173.77 269.39,205.20 315.24,228.00 393.19,175.19 402.75,171.59 418.48,182.40 429.81,212.39 463.20,228.01 476.28,272.39 620.16,242.41 787.20,132.34" stroke="#666" stroke-width="2.78"/>
<polyline points="211.20,343.20 237.75,340.08 280.56,340.07 315.24,346.08 337.16,332.87 370.20,296.75 399.38,278.64 406.92,278.63 416.04,297.60 441.60,333.00 450.72,338.99 463.85,329.11 480.82,366.01 499.16,383.99 516.85,390.00 538.96,390.00 557.30,384.00 578.40,383.97 616.23,389.98 646.44,382.51 787.20,304.51" stroke="#666" stroke-width="2.78"/>
<polyline points="130.50,282.00 137.25,276.75 147.00,272.25 150.00,269.25 156.00,258.40 157.50,258.20 165.00,260.60 175.50,263.25 180.00,265.10 184.00,266.50 196.00,266.90 208.00,264.60 220.00,262.75 230.50,261.25 239.50,259.75 247.00,255.25 254.50,252.25 262.00,251.10 269.50,250.40 277.00,250.75 284.50,251.90 292.00,252.40 295.00,251.85 301.00,252.75 308.50,253.50 316.00,253.90 323.50,253.50 329.50,253.10 334.75,251.25 340.00,249.50 344.50,248.50 355.00,244.00 362.50,239.50 370.00,236.90 377.50,232.75 382.00,229.75 388.00,223.00 392.50,219.25 397.00,216.80 400.00,216.25 405.25,215.50 409.00,216.25 413.50,218.50 417.25,221.50 420.00,226.50 423.60,233.00 427.10,239.50 431.10,246.25 435.40,253.50 444.30,268.50 448.20,275.00 451.60,280.70 455.50,287.00 462.25,291.10 469.75,294.50 477.25,297.10 484.75,299.00 490.75,301.00 497.50,301.50 502.75,300.40 512.50,297.00 523.75,292.50 529.00,288.75 538.00,285.40 542.50,284.10 548.00,281.75 552.50,280.25 560.00,276.50 563.75,273.10 569.75,272.75 572.00,270.90 578.00,270.50 581.00,266.75 586.25,266.40 590.00,263.75 595.25,263.00 598.25,258.90 612.50,258.75 615.90,255.40 629.00,255.40 633.10,245.10 651.50,245.10" stroke="#000" stroke-width="1.3"/>
</g>
<path d="M131.5 420.50v-2.78M131.5 60.50v2.78M151.5 420.50v-2.78M151.5 60.50v2.78M165.5 420.50v-2.78M165.5 60.50v2.78M177.5 420.50v-2.78M177.5 60.50v2.78M186.5 420.50v-2.78M186.5 60.50v2.78M193.5 420.50v-2.78M193.5 60.50v2.78M200.5 420.50v-2.78M200.5 60.50v2.78M206.5 420.50v-2.78M206.5 60.50v2.78M211.5 420.50v-5.56M211.5 60.50v5.56M246.5 420.50v-2.78M246.5 60.50v2.78M266.5 420.50v-2.78M266.5 60.50v2.78M281.5 420.50v-2.78M281.5 60.50v2.78M292.5 420.50v-2.78M292.5 60.50v2.78M301.5 420.50v-2.78M301.5 60.50v2.78M309.5 420.50v-2.78M309.5 60.50v2.78M315.5 420.50v-2.78M315.5 60.50v2.78M321.5 420.50v-2.78M321.5 60.50v2.78M326.5 420.50v-5.56M326.5 60.50v5.56M361.5 420.50v-2.78M361.5 60.50v2.78M381.5 420.50v-2.78M381.5 60.50v2.78M396.5 420.50v-2.78M396.5 60.50v2.78M407.5 420.50v-2.78M407.5 60.50v2.78M416.5 420.50v-2.78M416.5 60.50v2.78M424.5 420.50v-2.78M424.5 60.50v2.78M430.5 420.50v-2.78M430.5 60.50v2.78M436.5 420.50v-2.78M436.5 60.50v2.78M442.5 420.50v-5.56M442.5 60.50v5.56M476.5 420.50v-2.78M476.5 60.50v2.78M497.5 420.50v-2.78M497.5 60.50v2.78M511.5 420.50v-2.78M511.5 60.50v2.78M522.5 420.50v-2.78M522.5 60.50v2.78M531.5 420.50v-2.78M531.5 60.50v2.78M539.5 420.50v-2.78M539.5 60.50v2.78M546.5 420.50v-2.78M546.5 60.50v2.78M552.5 420.50v-2.78M552.5 60.50v2.78M557.5 420.50v-5.56M557.5 60.50v5.56M591.5 420.50v-2.78M591.5 60.50v2.78M612.5 420.50v-2.78M612.5 60.50v2.78M626.5 420.50v-2.78M626.5 60.50v2.78M637.5 420.50v-2.78M637.5 60.50v2.78M646.5 420.50v-2.78M646.5 60.50v2.78M654.5 420.50v-2.78M654.5 60.50v2.78M661.5 420.50v-2.78M661.5 60.50v2.78M667.5 420.50v-2.78M667.5 60.50v2.78M96.50 84.5h5.56M672.50 84.5h-5.56M96.50 132.5h5.56M672.50 132.5h-5.56M96.50 180.5h5.56M672.50 180.5h-5.56M96.50 228.5h5.56M672.50 228.5h-5.56M96.50 276.5h5.56M672.50 276.5h-5.56M96.50 324.5h5.56M672.50 324.5h-5.56M96.50 372.5h5.56M672.50 372.5h-5.56" fill="none" stroke="#000" stroke-width="0.8"/>
<rect x="96.55" y="60.42" width="575.87" height="359.86" fill="none" stroke="#000" stroke-width="1.3"/>
<rect x="708" y="60" width="19" height="361" fill="url(#pq)" shape-rendering="crispEdges"/>
<rect x="708.45" y="60.42" width="18.05" height="359.86" fill="none" stroke="#000" stroke-width="1.3"/>
<path d="M726.5 384.5h-5.56M726.5 348.5h-5.56M726.5 312.5h-5.56M726.5 276.5h-5.56M726.5 240.5h-5.56M726.5 204.5h-5.56M726.5 168.5h-5.56M726.5 132.5h-5.56M726.5 96.5h-5.56" fill="none" stroke="#000" stroke-width="0.8"/>
<g shape-rendering="crispEdges">
<rect x="120" y="474" width="560" height="10" fill="#008000"/>
<rect x="120" y="484" width="560" height="14" fill="#0000ff"/>

</g>
<rect x="120.5" y="474.45" width="560" height="23.95" fill="none" stroke="#000" stroke-width="1.3"/>
<path d="M167.5 474.5v5.56M167.5 498.5v-5.56M237.5 474.5v5.56M237.5 498.5v-5.56M307.5 474.5v5.56M307.5 498.5v-5.56M377.5 474.5v5.56M377.5 498.5v-5.56M447.5 474.5v5.56M447.5 498.5v-5.56M517.5 474.5v5.56M517.5 498.5v-5.56M587.5 474.5v5.56M587.5 498.5v-5.56M657.5 474.5v5.56M657.5 498.5v-5.56" fill="none" stroke="#000" stroke-width="0.8"/>
<g opacity="0.999">
<text y="15.90" font-size="16.30"><tspan x="137.60" textLength="127.08" lengthAdjust="spacingAndGlyphs">BK.BK69.00.HHE</tspan> <tspan x="279.25" textLength="88.79" lengthAdjust="spacingAndGlyphs">2018-10-10</tspan> <tspan x="372.89" textLength="11.03" lengthAdjust="spacingAndGlyphs">--</tspan> <tspan x="388.77" textLength="88.79" lengthAdjust="spacingAndGlyphs">2018-10-11</tspan> <tspan x="487.27" textLength="49.99" lengthAdjust="spacingAndGlyphs">(47/47</tspan> <tspan x="542.12" textLength="80.93" lengthAdjust="spacingAndGlyphs">segments)</tspan></text>
<text y="33.60" font-size="16.30"><tspan x="227.70" textLength="92.40" lengthAdjust="spacingAndGlyphs">sensor_type</tspan> <tspan x="324.95" textLength="60.25" lengthAdjust="spacingAndGlyphs">CMG-3T</tspan> <tspan x="390.06" textLength="75.91" lengthAdjust="spacingAndGlyphs">sensor_sn</tspan> <tspan x="470.83" textLength="67.65" lengthAdjust="spacingAndGlyphs">T310033</tspan></text>
<text y="51.30" font-size="16.30"><tspan x="152.50" textLength="124.85" lengthAdjust="spacingAndGlyphs">datalogger_type</tspan> <tspan x="282.20" textLength="127.79" lengthAdjust="spacingAndGlyphs">GuralpMinimus+</tspan> <tspan x="414.85" textLength="108.36" lengthAdjust="spacingAndGlyphs">datalogger_sn</tspan> <tspan x="528.07" textLength="85.19" lengthAdjust="spacingAndGlyphs">MINP-DB59</tspan></text>
<text y="88.50" font-size="17.78"><tspan x="55.43" textLength="12.46" lengthAdjust="spacingAndGlyphs">−</tspan><tspan x="68.39" textLength="21.21" lengthAdjust="spacingAndGlyphs">60</tspan></text>
<text y="136.50" font-size="17.78"><tspan x="55.43" textLength="12.46" lengthAdjust="spacingAndGlyphs">−</tspan><tspan x="68.39" textLength="21.21" lengthAdjust="spacingAndGlyphs">80</tspan></text>
<text y="184.50" font-size="17.78"><tspan x="44.82" textLength="12.46" lengthAdjust="spacingAndGlyphs">−</tspan><tspan x="57.79" textLength="31.81" lengthAdjust="spacingAndGlyphs">100</tspan></text>
<text y="232.50" font-size="17.78"><tspan x="44.82" textLength="12.46" lengthAdjust="spacingAndGlyphs">−</tspan><tspan x="57.79" textLength="31.81" lengthAdjust="spacingAndGlyphs">120</tspan></text>
<text y="280.50" font-size="17.78"><tspan x="44.82" textLength="12.46" lengthAdjust="spacingAndGlyphs">−</tspan><tspan x="57.79" textLength="31.81" lengthAdjust="spacingAndGlyphs">140</tspan></text>
<text y="328.50" font-size="17.78"><tspan x="44.82" textLength="12.46" lengthAdjust="spacingAndGlyphs">−</tspan><tspan x="57.79" textLength="31.81" lengthAdjust="spacingAndGlyphs">160</tspan></text>
<text y="376.50" font-size="17.78"><tspan x="44.82" textLength="12.46" lengthAdjust="spacingAndGlyphs">−</tspan><tspan x="57.79" textLength="31.81" lengthAdjust="spacingAndGlyphs">180</tspan></text>
<text y="424.50" font-size="17.78"><tspan x="44.82" textLength="12.46" lengthAdjust="spacingAndGlyphs">−</tspan><tspan x="57.79" textLength="31.81" lengthAdjust="spacingAndGlyphs">200</tspan></text>
<text x="77.90" y="439.50" font-size="17.78" textLength="37.11" lengthAdjust="spacingAndGlyphs">0.01</text>
<text x="198.40" y="439.50" font-size="17.78" textLength="26.51" lengthAdjust="spacingAndGlyphs">0.1</text>
<text x="321.55" y="439.50" font-size="17.78" textLength="10.60" lengthAdjust="spacingAndGlyphs">1</text>
<text x="431.45" y="439.50" font-size="17.78" textLength="21.21" lengthAdjust="spacingAndGlyphs">10</text>
<text x="541.34" y="439.50" font-size="17.78" textLength="31.81" lengthAdjust="spacingAndGlyphs">100</text>
<text x="651.24" y="439.50" font-size="17.78" textLength="42.42" lengthAdjust="spacingAndGlyphs">1000</text>
<text y="464.60" font-size="17.78"><tspan x="343.90" textLength="51.97" lengthAdjust="spacingAndGlyphs">Period</tspan> <tspan x="401.17" textLength="21.69" lengthAdjust="spacingAndGlyphs">[s]</tspan></text>
<text x="731.80" y="424.80" font-size="17.78" textLength="10.60" lengthAdjust="spacingAndGlyphs">0</text>
<text x="731.80" y="388.80" font-size="17.78" textLength="10.60" lengthAdjust="spacingAndGlyphs">3</text>
<text x="731.80" y="352.80" font-size="17.78" textLength="10.60" lengthAdjust="spacingAndGlyphs">6</text>
<text x="731.80" y="316.80" font-size="17.78" textLength="10.60" lengthAdjust="spacingAndGlyphs">9</text>
<text x="731.80" y="280.80" font-size="17.78" textLength="21.21" lengthAdjust="spacingAndGlyphs">12</text>
<text x="731.80" y="244.80" font-size="17.78" textLength="21.21" lengthAdjust="spacingAndGlyphs">15</text>
<text x="731.80" y="208.80" font-size="17.78" textLength="21.21" lengthAdjust="spacingAndGlyphs">18</text>
<text x="731.80" y="172.80" font-size="17.78" textLength="21.21" lengthAdjust="spacingAndGlyphs">21</text>
<text x="731.80" y="136.80" font-size="17.78" textLength="21.21" lengthAdjust="spacingAndGlyphs">24</text>
<text x="731.80" y="100.80" font-size="17.78" textLength="21.21" lengthAdjust="spacingAndGlyphs">27</text>
<text x="731.80" y="64.80" font-size="17.78" textLength="21.21" lengthAdjust="spacingAndGlyphs">30</text>
<g transform="translate(773.8,256.2) rotate(-90)"><text y="0.00" font-size="17.78"><tspan x="0.00" textLength="28.84" lengthAdjust="spacingAndGlyphs">[%]</tspan></text></g>
<g transform="translate(28.1,333.3) rotate(-90)"><text y="0.00" font-size="17.78"><tspan x="0.00" textLength="50.39" lengthAdjust="spacingAndGlyphs">Power</tspan> <tspan x="55.69" textLength="6.50" lengthAdjust="spacingAndGlyphs">[</tspan></text><text x="62.40" y="0.00" font-size="18.00" textLength="13.80" lengthAdjust="spacingAndGlyphs" font-style="italic" font-family="Liberation Serif">m</text><text x="78.00" y="-6.40" font-size="12.00" font-family="Liberation Serif">2</text><text x="86.00" y="1.80" font-size="18.00" textLength="10.40" lengthAdjust="spacingAndGlyphs" font-family="Liberation Serif" fill="#333">/</text><text x="95.00" y="0.00" font-size="18.00" font-style="italic" font-family="Liberation Serif">s</text><text x="103.00" y="-6.40" font-size="12.00" font-family="Liberation Serif">4</text><text x="110.60" y="1.80" font-size="18.00" textLength="10.40" lengthAdjust="spacingAndGlyphs" font-family="Liberation Serif" fill="#333">/</text><text x="120.40" y="0.00" font-size="17.50" textLength="11.00" lengthAdjust="spacingAndGlyphs" font-style="italic" font-family="Liberation Serif">H</text><text x="131.40" y="0.00" font-size="18.00" font-style="italic" font-family="Liberation Serif">z</text><text y="0.00" font-size="17.78"><tspan x="139.30" textLength="6.50" lengthAdjust="spacingAndGlyphs">]</tspan> <tspan x="151.10" textLength="35.02" lengthAdjust="spacingAndGlyphs">[dB]</tspan></text></g>
<g transform="translate(163.60,516.1) rotate(-30)"><text x="-74.85" y="0.00" font-size="17.78" textLength="74.85" lengthAdjust="spacingAndGlyphs">02:00:00</text></g>
<g transform="translate(233.60,516.1) rotate(-30)"><text x="-74.85" y="0.00" font-size="17.78" textLength="74.85" lengthAdjust="spacingAndGlyphs">05:00:00</text></g>
<g transform="translate(303.60,516.1) rotate(-30)"><text x="-74.85" y="0.00" font-size="17.78" textLength="74.85" lengthAdjust="spacingAndGlyphs">08:00:00</text></g>
<g transform="translate(373.60,516.1) rotate(-30)"><text x="-74.85" y="0.00" font-size="17.78" textLength="74.85" lengthAdjust="spacingAndGlyphs">11:00:00</text></g>
<g transform="translate(443.60,516.1) rotate(-30)"><text x="-74.85" y="0.00" font-size="17.78" textLength="74.85" lengthAdjust="spacingAndGlyphs">14:00:00</text></g>
<g transform="translate(513.60,516.1) rotate(-30)"><text x="-74.85" y="0.00" font-size="17.78" textLength="74.85" lengthAdjust="spacingAndGlyphs">17:00:00</text></g>
<g transform="translate(583.60,516.1) rotate(-30)"><text x="-74.85" y="0.00" font-size="17.78" textLength="74.85" lengthAdjust="spacingAndGlyphs">20:00:00</text></g>
<g transform="translate(653.60,516.1) rotate(-30)"><text x="-74.85" y="0.00" font-size="17.78" textLength="74.85" lengthAdjust="spacingAndGlyphs">23:00:00</text></g>
</g>
</svg>
</body></html>
